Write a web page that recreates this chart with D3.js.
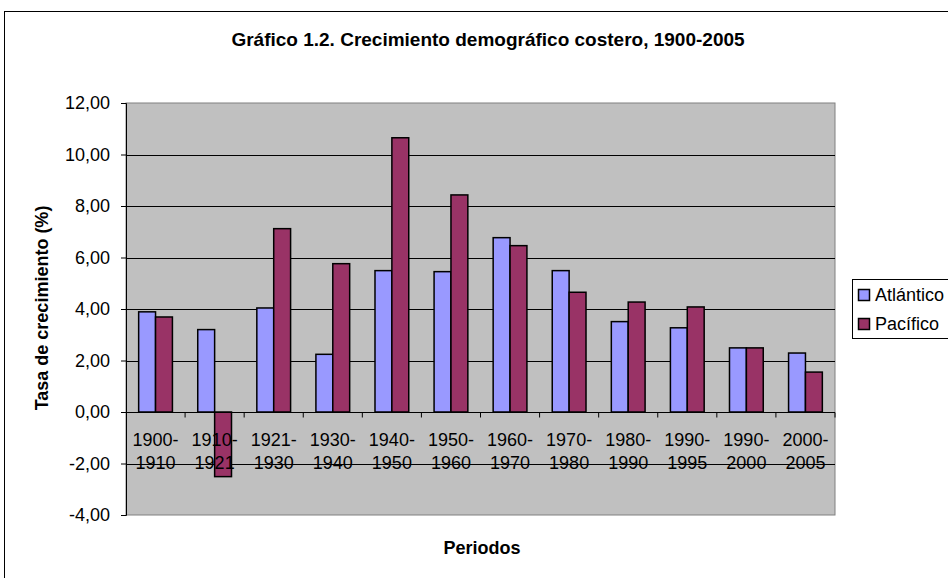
<!DOCTYPE html>
<html>
<head>
<meta charset="utf-8">
<script src="https://cdn.jsdelivr.net/npm/d3@7"></script>
<style>
  body { margin: 0; background: #fff; }
  text { font-family: "Liberation Sans", Arial, sans-serif; }
</style>
</head>
<body>
<script>
var periods = ["1900-1910", "1910-1921", "1921-1930", "1930-1940", "1940-1950", "1950-1960",
  "1960-1970", "1970-1980", "1980-1990", "1990-1995", "1990-2000", "2000-2005"];
var atlantico = [3.89, 3.20, 4.04, 2.24, 5.49, 5.45, 6.77, 5.49, 3.51, 3.27, 2.49, 2.29];
var pacifico = [3.69, -2.51, 7.12, 5.76, 10.65, 8.43, 6.46, 4.65, 4.27, 4.08, 2.49, 1.55];
var yTicks = [-4, -2, 0, 2, 4, 6, 8, 10, 12];
var seriesNames = ["Atlántico", "Pacífico"];

var width = 948, height = 578;
var plotLeft = 126, plotRight = 835, plotTop = 103, plotBottom = 515;
var colors = ["#9999ff", "#993366"];

var svg = d3.select("body").append("svg")
    .attr("width", width)
    .attr("height", height);

// outer chart border
svg.append("rect")
    .attr("x", 4.5).attr("y", 11.5)
    .attr("width", 1000).attr("height", 700)
    .attr("fill", "#fff")
    .attr("stroke", "#000");

var x = d3.scaleBand()
    .domain(periods)
    .range([plotLeft, plotRight]);

var y = d3.scaleLinear()
    .domain([-4, 12])
    .range([plotBottom, plotTop]);

// plot area
svg.append("rect")
    .attr("x", plotLeft).attr("y", plotTop)
    .attr("width", plotRight - plotLeft).attr("height", plotBottom - plotTop)
    .attr("fill", "#c0c0c0")
    .attr("stroke", "#808080");

// gridlines
svg.append("g")
    .selectAll("line")
    .data(yTicks.filter(function(d) { return d > -4 && d < 12; }))
    .join("line")
    .attr("x1", plotLeft).attr("x2", plotRight)
    .attr("y1", function(d) { return Math.round(y(d)) + 0.5; })
    .attr("y2", function(d) { return Math.round(y(d)) + 0.5; })
    .attr("stroke", "#000");

// bars
var barW = x.bandwidth() / 3.5;
var gap = x.bandwidth() * 0.75 / 3.5;
[atlantico, pacifico].forEach(function(vals, s) {
  svg.append("g")
      .selectAll("rect")
      .data(vals)
      .join("rect")
      .attr("x", function(d, i) { return x(periods[i]) + gap + s * barW; })
      .attr("y", function(d) { return y(Math.max(0, d)); })
      .attr("width", barW)
      .attr("height", function(d) { return Math.abs(y(d) - y(0)); })
      .attr("fill", colors[s])
      .attr("stroke", "#000")
      .attr("stroke-width", 1.5);
});

// category labels (two lines), drawn over the bars
var labels = svg.append("g");
periods.forEach(function(p) {
  var parts = p.split("-");
  var cx = x(p) + x.bandwidth() / 2;
  var t = labels.append("text")
      .attr("x", cx)
      .attr("y", 446)
      .attr("text-anchor", "middle")
      .style("font-size", "18px");
  t.append("tspan").attr("x", cx).text(parts[0] + "-");
  t.append("tspan").attr("x", cx).attr("dy", 23).text(parts[1]);
});

// y axis
var yAxis = svg.append("g")
    .attr("transform", "translate(" + plotLeft + ",0)")
    .call(d3.axisLeft(y).tickValues(yTicks).tickSize(5).tickPadding(11)
      .tickFormat(function(d) { return d3.format(".2f")(d).replace(".", ",").replace("\u2212", "-"); }));
yAxis.select(".domain").attr("stroke", "#000");
yAxis.selectAll("text").style("font-size", "18px").attr("fill", "#000")
    .style("font-family", "'Liberation Sans', Arial, sans-serif");

// x axis at zero
var xAxis = svg.append("g")
    .attr("transform", "translate(0," + (Math.round(y(0)) + 0.5) + ")");
xAxis.append("line")
    .attr("x1", plotLeft).attr("x2", plotRight)
    .attr("stroke", "#000");
xAxis.selectAll(".tick")
    .data(periods.slice(1).concat(["end"]))
    .join("line")
    .attr("x1", function(d) { return d === "end" ? plotRight : x(d); })
    .attr("x2", function(d) { return d === "end" ? plotRight : x(d); })
    .attr("y1", 0).attr("y2", 5)
    .attr("stroke", "#000");

// title
svg.append("text")
    .attr("x", 488).attr("y", 46)
    .attr("text-anchor", "middle")
    .style("font-size", "19px")
    .style("font-weight", "bold")
    .text("Gráfico 1.2. Crecimiento demográfico costero, 1900-2005");

// axis titles
svg.append("text")
    .attr("transform", "translate(48,308) rotate(-90)")
    .attr("text-anchor", "middle")
    .style("font-size", "18px")
    .style("font-weight", "bold")
    .text("Tasa de crecimiento (%)");

svg.append("text")
    .attr("x", 482).attr("y", 554)
    .attr("text-anchor", "middle")
    .style("font-size", "18px")
    .style("font-weight", "bold")
    .text("Periodos");

// legend
var legend = svg.append("g");
legend.append("rect")
    .attr("x", 852.5).attr("y", 279.5)
    .attr("width", 120).attr("height", 59)
    .attr("fill", "#fff")
    .attr("stroke", "#000");
seriesNames.forEach(function(name, i) {
  legend.append("rect")
      .attr("x", 858.5).attr("y", 289.5 + i * 29)
      .attr("width", 11).attr("height", 11)
      .attr("fill", colors[i])
      .attr("stroke", "#000")
      .attr("stroke-width", 1.5);
  legend.append("text")
      .attr("x", 875).attr("y", 301 + i * 29)
      .style("font-size", "18px")
      .text(name);
});
</script>
</body>
</html>
